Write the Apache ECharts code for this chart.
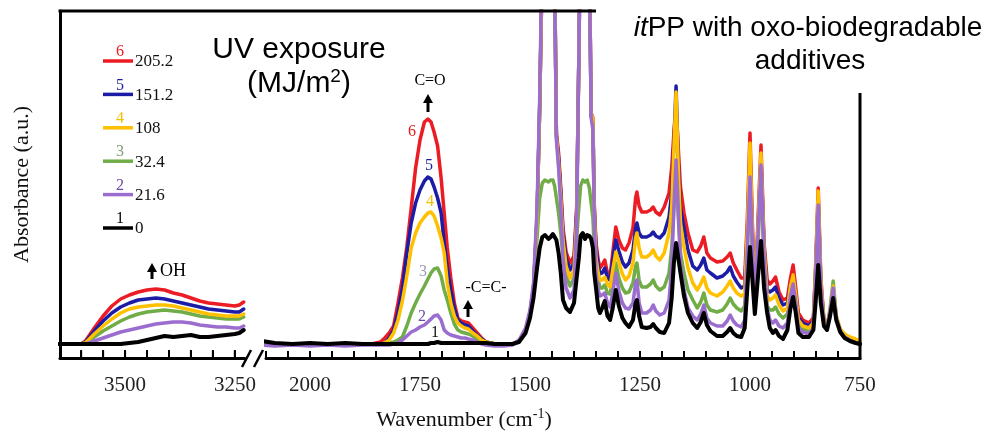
<!DOCTYPE html>
<html>
<head>
<meta charset="utf-8">
<script src="https://cdn.jsdelivr.net/npm/echarts@6/dist/echarts.min.js"></script>
<style>
  html, body { margin: 0; padding: 0; background: #fff; }
  #chart { width: 1003px; height: 437px; }
</style>
</head>
<body>
<div id="chart"></div>
<script>
// FTIR spectra of itPP with oxo-biodegradable additives after UV exposure.
// Broken wavenumber axis: 3650-3230 (OH band) and 2100-750 cm-1.

// ---- OH band panel ----
const WN_LEFT = [3650, 3620, 3600, 3590, 3570, 3550, 3530, 3510, 3490, 3470, 3450, 3430,
                 3410, 3390, 3370, 3350, 3330, 3310, 3290, 3270, 3250, 3240, 3230];
const LEFT_BLACK  = [14, 14, 14, 14, 14, 14, 14, 14, 15, 16, 18, 20, 22, 21, 22, 23, 21, 21, 22, 23, 24, 25, 28];
const LEFT_PURPLE = [14, 14, 14, 14, 17, 20, 23, 26, 28, 30, 32, 34, 35, 36, 36, 35, 33, 32, 31, 31, 30, 30, 32];
const LEFT_GREEN  = [14, 14, 14, 15, 21, 27, 32, 37, 41, 44, 46, 47, 48, 47, 46, 44, 42, 41, 40, 39, 39, 39, 41];
const LEFT_YELLOW = [14, 14, 14, 15, 24, 32, 39, 45, 49, 51, 52, 53, 53, 52, 50, 48, 46, 44, 43, 42, 42, 42, 44];
const LEFT_BLUE   = [14, 14, 14, 16, 27, 37, 45, 51, 55, 58, 59, 60, 59, 57, 55, 53, 51, 49, 48, 47, 46, 46, 49];
const LEFT_RED    = [14, 14, 14, 17, 30, 42, 52, 59, 63, 66, 68, 69, 68, 65, 63, 60, 57, 55, 54, 53, 52, 53, 56];

// ---- fingerprint / carbonyl panel ----
const WN_RIGHT = [
  2110, 2080, 2040, 2000, 1960, 1920, 1880, 1860, 1840, 1830,
  1820, 1810, 1800, 1790, 1780, 1770, 1760, 1750, 1740, 1732,
  1725, 1718, 1710, 1702, 1695, 1688, 1680, 1672, 1664, 1656,
  1648, 1640, 1630, 1620, 1610, 1600, 1580, 1560, 1540, 1525,
  1510, 1500, 1492, 1484, 1478, 1472, 1466, 1462, 1458, 1453,
  1448, 1444, 1440, 1435, 1430, 1425, 1418, 1409, 1400, 1394,
  1389, 1385, 1380, 1375, 1370, 1365, 1361, 1357, 1354, 1350,
  1345, 1341, 1336, 1330, 1324, 1318, 1312, 1305, 1298, 1290,
  1283, 1275, 1266, 1260, 1257, 1252, 1246, 1235, 1226, 1220,
  1214, 1205, 1195, 1184, 1178, 1173, 1168, 1163, 1158, 1150,
  1141, 1130, 1120, 1112, 1105, 1098, 1090, 1075, 1062, 1052,
  1045, 1038, 1030, 1020, 1012, 1006, 1000, 994, 989, 983,
  975, 968, 961, 955, 948, 942, 934, 925, 915, 908,
  902, 896, 890, 880, 866, 856, 851, 845, 839, 832,
  825, 818, 811, 804, 795, 785, 773, 760, 750
];
const RIGHT_BLACK = [
  17, 15, 14, 15, 14, 15, 14, 14, 14, 14,
  14, 14, 14, 14, 14, 14, 14, 14, 14, 14,
  15, 15, 16, 15, 15, 15, 15, 15, 15, 15,
  15, 15, 15, 15, 15, 15, 14, 14, 14, 16,
  25, 40, 60, 90, 110, 121, 123, 124, 119, 121,
  124, 122, 118, 105, 85, 58, 50, 46, 55, 80,
  100, 122, 125, 119, 123, 122, 119, 110, 85, 70,
  50, 45, 50, 57, 42, 38, 50, 68, 52, 40,
  35, 31, 38, 55, 58, 42, 31, 30, 31, 34,
  30, 26, 25, 35, 60, 95, 115, 100, 85, 62,
  45, 35, 30, 36, 45, 33, 27, 22, 22, 26,
  30, 25, 22, 21, 30, 70, 111, 75, 44, 75,
  117, 70, 45, 30, 25, 28, 22, 19, 28, 50,
  61, 45, 25, 21, 21, 28, 55, 93, 55, 32,
  28, 42, 60, 38, 26, 20, 17, 15, 14
];
const RIGHT_PURPLE = [
  13, 12, 13, 12, 13, 12, 13, 13, 13, 13,
  13, 14, 15, 18, 22, 26, 28, 31, 33, 36,
  39, 42, 43, 38, 28, 25, 23, 22, 21, 20,
  20, 19, 18, 16, 14, 13, 12, 12, 13, 18,
  30, 48, 75, 150, 260, 420, 460, 460, 460, 460,
  460, 380, 218, 190, 150, 100, 70, 60, 68, 130,
  300, 450, 460, 460, 460, 400, 240, 228, 140, 85,
  68, 62, 63, 65, 55, 51, 65, 85, 67, 55,
  50, 49, 55, 75, 78, 55, 45, 45, 48, 53,
  47, 43, 45, 58, 90, 150, 198, 150, 95, 68,
  50, 42, 38, 44, 53, 40, 35, 32, 32, 37,
  43, 37, 33, 31, 38, 110, 181, 110, 47, 110,
  193, 100, 50, 38, 35, 38, 32, 30, 35, 62,
  74, 55, 30, 26, 24, 30, 80, 153, 72, 32,
  29, 47, 70, 40, 27, 21, 18, 15, 14
];
const RIGHT_GREEN = [
  14, 14, 14, 14, 14, 14, 14, 14, 14, 14,
  15, 16, 18, 21, 32, 45, 55, 64, 72, 79,
  85, 89, 90, 82, 68, 58, 45, 34, 28, 26,
  25, 24, 22, 19, 17, 15, 14, 14, 14, 17,
  27, 43, 70, 120, 160, 175, 178, 180, 176, 178,
  178, 172, 160, 145, 125, 100, 82, 72, 80, 120,
  150, 172, 178, 176, 178, 170, 155, 140, 110, 90,
  78, 70, 70, 73, 65, 64, 78, 95, 80, 70,
  65, 66, 75, 92, 95, 78, 71, 71, 74, 78,
  72, 68, 71, 85, 110, 150, 190, 140, 105, 85,
  68, 58, 50, 56, 65, 53, 48, 46, 48, 54,
  60, 54, 50, 47, 52, 110, 170, 100, 48, 100,
  185, 95, 52, 48, 48, 51, 44, 40, 44, 64,
  74, 55, 34, 29, 27, 32, 75, 140, 68, 33,
  30, 50, 77, 42, 28, 22, 19, 16, 14
];
const RIGHT_YELLOW = [
  14, 14, 14, 14, 14, 14, 14, 14, 14, 15,
  18, 25, 38, 57, 82, 110, 125, 135, 141, 145,
  146, 142, 132, 120, 105, 75, 55, 42, 35, 32,
  30, 29, 25, 22, 18, 16, 14, 14, 14, 17,
  27, 45, 70, 140, 250, 400, 460, 460, 460, 460,
  460, 390, 222, 195, 160, 118, 92, 80, 88, 140,
  300, 450, 460, 460, 460, 400, 245, 238, 150, 100,
  85, 78, 78, 81, 74, 71, 88, 106, 96, 84,
  78, 82, 95, 120, 125, 110, 101, 101, 104, 108,
  102, 98, 105, 125, 150, 210, 266, 190, 135, 111,
  90, 75, 68, 74, 81, 70, 65, 62, 66, 72,
  77, 70, 65, 62, 64, 130, 215, 120, 49, 120,
  205, 110, 62, 58, 60, 63, 53, 47, 50, 72,
  83, 63, 38, 32, 30, 35, 90, 167, 80, 35,
  31, 47, 72, 42, 29, 24, 21, 19, 17
];
const RIGHT_BLUE = [
  14, 14, 14, 14, 14, 14, 14, 14, 14, 15,
  20, 28, 46, 70, 105, 135, 155, 168, 177, 181,
  179, 171, 160, 145, 115, 90, 68, 50, 38, 35,
  33, 32, 27, 23, 19, 16, 14, 14, 14, 17,
  27, 45, 70, 140, 250, 400, 460, 460, 460, 460,
  460, 390, 222, 200, 165, 125, 100, 88, 95, 145,
  300, 450, 460, 460, 460, 400, 242, 235, 150, 110,
  92, 84, 85, 90, 80, 78, 98, 118, 107, 96,
  91, 95, 108, 130, 135, 125, 121, 121, 123, 126,
  122, 120, 125, 141, 165, 215, 272, 195, 150, 130,
  108, 92, 88, 93, 100, 88, 85, 80, 82, 86,
  91, 82, 76, 70, 72, 125, 205, 115, 50, 115,
  200, 110, 68, 66, 68, 71, 60, 53, 55, 72,
  82, 62, 40, 35, 32, 37, 85, 160, 75, 36,
  32, 45, 70, 40, 28, 22, 19, 16, 14
];
const RIGHT_RED = [
  14, 14, 14, 14, 14, 14, 14, 14, 16, 20,
  25, 32, 55, 80, 111, 150, 190, 218, 236, 239,
  236, 226, 212, 180, 145, 110, 80, 55, 40, 37,
  36, 35, 30, 25, 20, 16, 14, 14, 14, 17,
  27, 45, 70, 140, 250, 400, 460, 460, 460, 460,
  460, 390, 225, 205, 170, 130, 106, 95, 102, 150,
  300, 450, 460, 460, 460, 400, 245, 240, 155, 115,
  98, 90, 93, 98, 85, 81, 105, 131, 118, 110,
  108, 115, 130, 160, 166, 152, 146, 146, 148, 151,
  146, 143, 151, 165, 190, 225, 250, 210, 171, 145,
  125, 108, 106, 112, 121, 105, 100, 96, 97, 101,
  105, 95, 88, 80, 80, 140, 225, 125, 51, 125,
  213, 115, 78, 74, 77, 81, 66, 58, 60, 80,
  93, 70, 45, 38, 35, 40, 90, 170, 80, 38,
  33, 45, 70, 40, 28, 22, 19, 16, 14
];

// UV doses (MJ/m2) and curve numbers, in legend order (top to bottom)
const DOSES     = ['205.2', '151.2', '108', '32.4', '21.6', '0'];
const CURVE_NO  = ['6', '5', '4', '3', '2', '1'];

// axis ticks and labels
const LEFT_TICKS   = [3250, 3300, 3350, 3400, 3450, 3500, 3550, 3600];
const LEFT_LABELS  = [3250, 3500];
const RIGHT_TICK_STEP  = 50;
const RIGHT_LABEL_STEP = 250;

const RED = '#ec1c24', BLUE = '#1c1ca6', YELLOW = '#ffc000',
      GREEN = '#70ad47', PURPLE = '#9b6dcf', BLACK = '#000000';

// draw order: later series sit on top (black last)
const CURVES = [
  { dose: '205.2', color: RED,    width: 3.5, left: LEFT_RED,    right: RIGHT_RED },
  { dose: '151.2', color: BLUE,   width: 3.5, left: LEFT_BLUE,   right: RIGHT_BLUE },
  { dose: '32.4',  color: GREEN,  width: 3.5, left: LEFT_GREEN,  right: RIGHT_GREEN },
  { dose: '108',   color: YELLOW, width: 3.5, left: LEFT_YELLOW, right: RIGHT_YELLOW },
  { dose: '21.6',  color: PURPLE, width: 3.5, left: LEFT_PURPLE, right: RIGHT_PURPLE },
  { dose: '0',     color: BLACK,  width: 4,   left: LEFT_BLACK,  right: RIGHT_BLACK }
];
const LEGEND_COLORS = [RED, BLUE, YELLOW, GREEN, PURPLE, BLACK];
const LEGEND_NO_COLORS = [RED, BLUE, '#f2c200', '#7f9a70', '#6e48a8', BLACK];

const SERIF = '"Liberation Serif", "Times New Roman", serif';
const SANS = '"Liberation Sans", Arial, sans-serif';

function pairs(xs, ys) { return xs.map((x, i) => [x, ys[i]]); }

const series = [];
CURVES.forEach(c => {
  series.push({
    type: 'line', name: c.dose, xAxisIndex: 0, yAxisIndex: 0,
    data: pairs(WN_LEFT, c.left), symbol: 'none', silent: true,
    lineStyle: { color: c.color, width: c.width, join: 'round', cap: 'round' }
  });
  series.push({
    type: 'line', name: c.dose, xAxisIndex: 1, yAxisIndex: 1,
    data: pairs(WN_RIGHT, c.right), symbol: 'none', silent: true,
    lineStyle: { color: c.color, width: c.width, join: 'round', cap: 'round' }
  });
});

// inward tick marks on the OH panel, standing on its baseline
series.push({
  type: 'scatter', xAxisIndex: 0, yAxisIndex: 0, silent: true, clip: false, z: 20,
  data: LEFT_TICKS.map(v => [v, 0]),
  symbol: 'rect', symbolSize: [2, 7], symbolOffset: [0, -3.5],
  itemStyle: { color: '#000', opacity: 1 }
});

const axisLineStyle = { show: true, lineStyle: { color: '#000', width: 3 } };
const labelFont = { fontFamily: SERIF, fontSize: 21, color: '#222' };

function text(str, x, y, size, color, family, align) {
  return {
    type: 'text', x: x, y: y, z: 100,
    style: { text: str, fontSize: size, fontFamily: family, fill: color,
             align: align || 'center', verticalAlign: 'middle' }
  };
}
function upArrow(x, tipY, tailY) {
  return [
    { type: 'line', z: 100, shape: { x1: x, y1: tipY + 6, x2: x, y2: tailY },
      style: { stroke: '#000', lineWidth: 3 } },
    { type: 'polygon', z: 100, shape: { points: [[x, tipY], [x - 5, tipY + 9], [x + 5, tipY + 9]] },
      style: { fill: '#000' } }
  ];
}

const graphic = [];
// frame: top edge and right edge (bottom / left come from the axes)
graphic.push({ type: 'line', z: 100, shape: { x1: 58.5, y1: 11, x2: 596, y2: 11 },
               style: { stroke: '#000', lineWidth: 3 } });
graphic.push({ type: 'line', z: 100, shape: { x1: 860, y1: 93, x2: 860, y2: 359.5 },
               style: { stroke: '#000', lineWidth: 3 } });
// axis break marks
graphic.push({ type: 'line', z: 100, shape: { x1: 242, y1: 367, x2: 251, y2: 350 },
               style: { stroke: '#000', lineWidth: 2.5 } });
graphic.push({ type: 'line', z: 100, shape: { x1: 254, y1: 367, x2: 263, y2: 350 },
               style: { stroke: '#000', lineWidth: 2.5 } });

// legend: short line, curve number above, dose to the right
DOSES.forEach((d, i) => {
  const y = 61 + i * 33.4;
  graphic.push({ type: 'line', z: 100, shape: { x1: 103, y1: y, x2: 133, y2: y },
                 style: { stroke: LEGEND_COLORS[i], lineWidth: 3.5 } });
  graphic.push(text(CURVE_NO[i], 120, y - 9, 16, LEGEND_NO_COLORS[i], SERIF));
  graphic.push(text(d, 135, y + 1, 17, '#111', SERIF, 'left'));
});

// titles
graphic.push(text('UV exposure', 299, 50, 30, '#000', SANS));
graphic.push({
  type: 'text', x: 299, y: 84, z: 100,
  style: {
    text: '{a|(MJ/m}{s|2}{a|)}', align: 'center', verticalAlign: 'middle',
    rich: { a: { fontSize: 30, fontFamily: SANS, fill: '#000', lineHeight: 34 },
            s: { fontSize: 19, fontFamily: SANS, fill: '#000', verticalAlign: 'top', lineHeight: 22 } }
  }
});
graphic.push({
  type: 'text', x: 808, y: 28, z: 100,
  style: {
    text: '{i|it}{n|PP with oxo-biodegradable}', align: 'center', verticalAlign: 'middle',
    rich: { i: { fontSize: 28, fontFamily: SANS, fontStyle: 'italic', fill: '#000' },
            n: { fontSize: 28, fontFamily: SANS, fill: '#000' } }
  }
});
graphic.push(text('additives', 810, 61, 28, '#000', SANS));

// band annotations
graphic.push(text('C=O', 430, 81, 16, '#000', SERIF));
graphic.push(...upArrow(428, 94, 112));
graphic.push(text('-C=C-', 486, 288, 16, '#000', SERIF));
graphic.push(...upArrow(468, 300, 317));
graphic.push(text('OH', 160, 271, 18, '#000', SERIF, 'left'));
graphic.push(...upArrow(152, 263, 279));

// curve numbers on the carbonyl band
graphic.push(text('6', 412, 132, 16, '#e0201c', SERIF));
graphic.push(text('5', 429, 166, 16, BLUE, SERIF));
graphic.push(text('4', 430, 202, 16, '#f2c200', SERIF));
graphic.push(text('3', 423, 272, 16, '#a09ab6', SERIF));
graphic.push(text('2', 422, 317, 16, '#6e48a8', SERIF));
graphic.push(text('1', 435, 333, 16, '#111', SERIF));

// x-axis title
graphic.push({
  type: 'text', x: 464, y: 420, z: 100,
  style: {
    text: '{a|Wavenumber (cm}{s|-1}{a|)}', align: 'center', verticalAlign: 'middle',
    rich: { a: { fontSize: 22, fontFamily: SERIF, fill: '#111', lineHeight: 26 },
            s: { fontSize: 14, fontFamily: SERIF, fill: '#111', verticalAlign: 'top', lineHeight: 14 } }
  }
});

const option = {
  animation: false,
  backgroundColor: '#fff',
  grid: [
    { left: 60, top: 11, width: 185, height: 347 },
    { left: 266, top: 11, width: 594, height: 347 }
  ],
  xAxis: [
    { gridIndex: 0, type: 'value', min: 3227, max: 3648, inverse: true,
      axisLine: axisLineStyle, axisTick: { show: false },
      axisLabel: Object.assign({ show: true, margin: 17, customValues: LEFT_LABELS,
                                 formatter: v => String(v) }, labelFont),
      splitLine: { show: false } },
    { gridIndex: 1, type: 'value', min: 750, max: 2100, interval: RIGHT_TICK_STEP, inverse: true,
      axisLine: axisLineStyle,
      axisTick: { show: true, inside: true, length: 7, lineStyle: { color: '#000', width: 2 } },
      axisLabel: Object.assign({ show: true, margin: 17,
                                 formatter: v => (v % RIGHT_LABEL_STEP === 0 ? String(v) : '') }, labelFont),
      splitLine: { show: false } }
  ],
  yAxis: [
    { gridIndex: 0, type: 'value', min: 0, max: 347,
      axisLine: { show: true, lineStyle: { color: '#000', width: 3 } },
      axisTick: { show: false }, axisLabel: { show: false }, splitLine: { show: false },
      name: 'Absorbance (a.u.)', nameLocation: 'middle', nameGap: 27,
      nameTextStyle: { fontFamily: SERIF, fontSize: 22, color: '#111' } },
    { gridIndex: 1, type: 'value', min: 0, max: 347, show: false }
  ],
  series: series
};

const chart = echarts.init(document.getElementById('chart'), null, { renderer: 'canvas' });
chart.setOption(option);

// OH-panel ticks also drawn as short strokes, placed through the axis' own scale
const yBase = chart.convertToPixel({ yAxisIndex: 0 }, 0);
LEFT_TICKS.forEach(v => {
  const x = chart.convertToPixel({ xAxisIndex: 0 }, v);
  graphic.push({ type: 'line', z: 100, shape: { x1: x, y1: yBase, x2: x, y2: yBase - 8 },
                 style: { stroke: '#000', lineWidth: 2 } });
});
chart.setOption({ graphic: graphic });
</script>
</body>
</html>
